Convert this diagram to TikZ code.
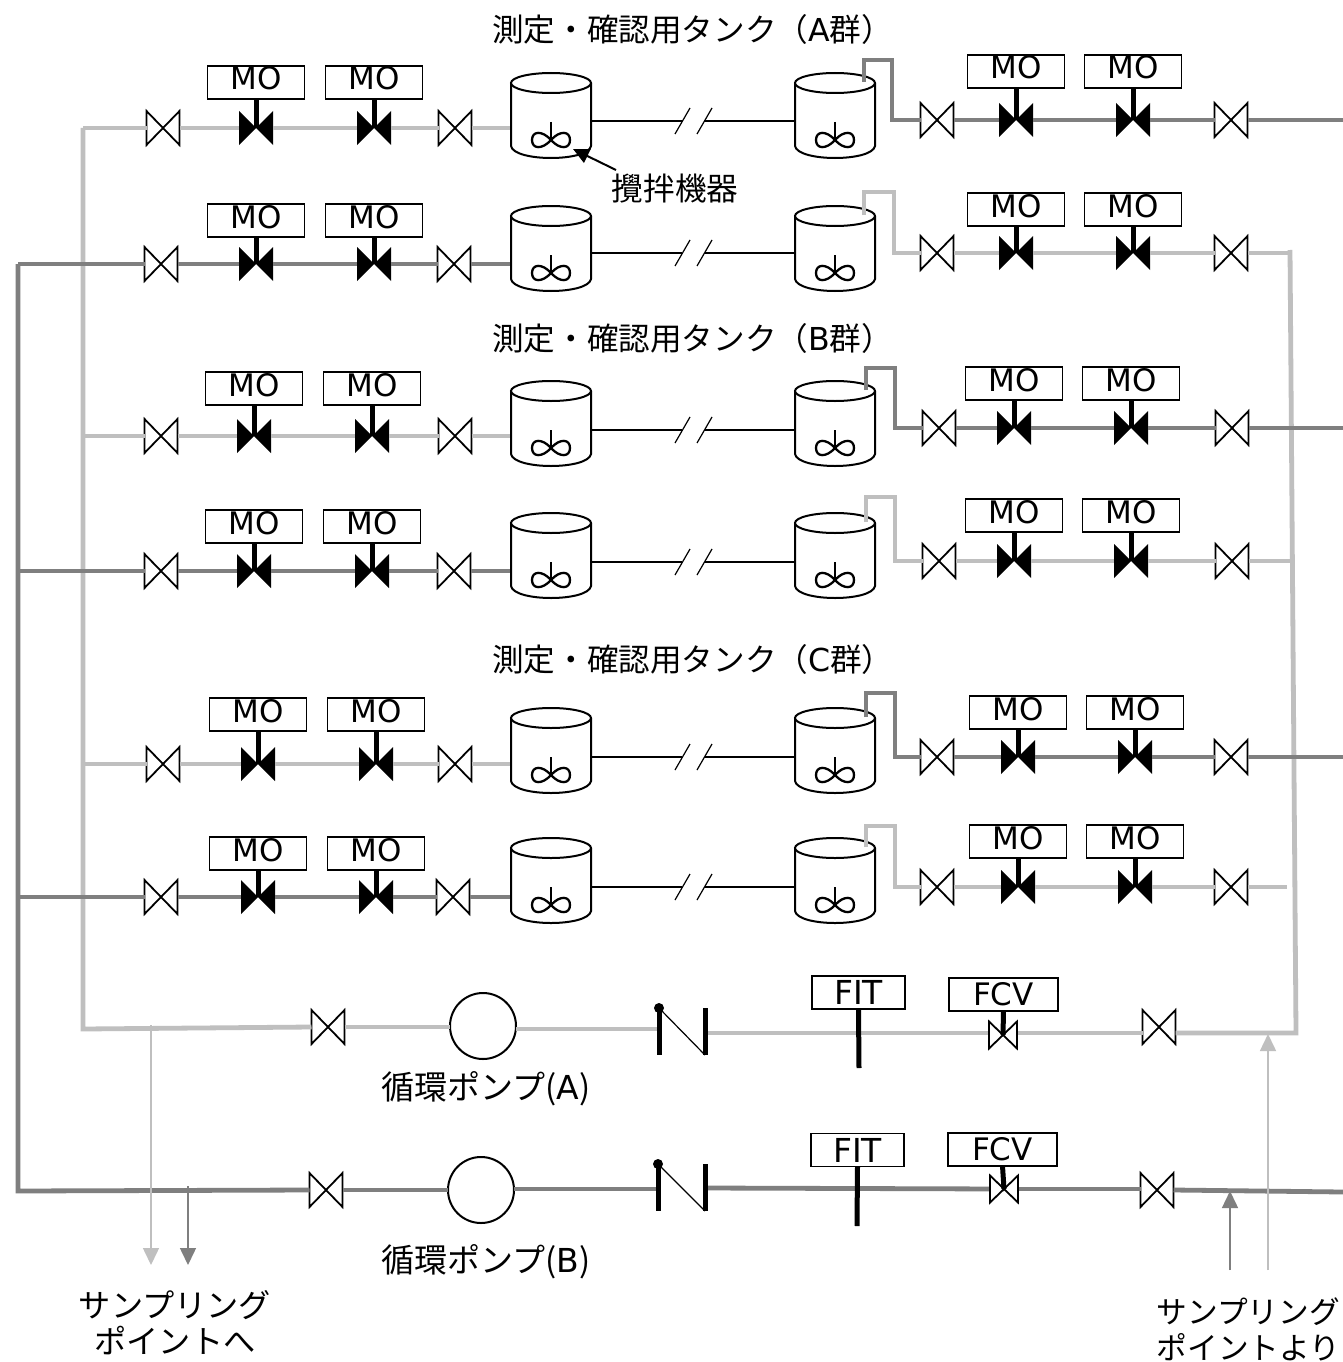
\documentclass[tikz,border=0pt]{standalone}
\usepackage{fontspec}
\setmainfont{DejaVu Sans}
\newfontfamily\cjk{Noto Sans CJK JP}
\usetikzlibrary{arrows.meta}
\definecolor{lightpipe}{HTML}{BFBFBF}
\definecolor{darkpipe}{HTML}{7F7F7F}
\tikzset{
  x=1pt,y=-1pt,
  lightp/.style={draw=lightpipe,line width=4.8pt,line join=miter},
  darkp/.style={draw=darkpipe,line width=4.8pt,line join=miter},
  sym/.style={inner sep=0pt,outer sep=0pt,minimum width=#1*2pt,minimum height=34pt},
  sym/.default=16.5,
  tagbox/.style={draw=black,line width=1.8pt,fill=white,inner sep=0pt,outer sep=0pt,minimum width=97pt,minimum height=33pt,font=\fontsize{31}{34}\selectfont},
  stem/.style={line width=5pt,draw=black},
  vessel/.style={inner sep=0pt,outer sep=0pt,minimum width=80pt,minimum height=84pt},
  jp/.style={inner sep=0pt,font=\cjk\fontsize{31.6}{38}\selectfont},
  pumplab/.style={inner sep=0pt,font=\cjk\fontsize{33}{38}\selectfont},
  samp/.style={inner sep=0pt,font=\cjk\fontsize{32.2}{36}\selectfont},
  sampr/.style={inner sep=0pt,font=\cjk\fontsize{30.7}{36}\selectfont},
  tiplight/.style={draw=lightpipe,line width=1.5pt,-{Triangle[width=16pt,length=17pt,fill=lightpipe]}},
  tipdark/.style={draw=darkpipe,line width=1.5pt,-{Triangle[width=16pt,length=17pt,fill=darkpipe]}},
}
% hand valve: name,x,y
\newcommand{\handv}[3]{\node[sym] (#1) at (#2,#3) {};
  \draw[line width=1.8pt,line join=miter,fill=white] (#1.north west)--(#1.south east)--(#1.north east)--(#1.south west)--cycle;}
% small valve
\newcommand{\smallv}[3]{\node[sym=14,minimum height=27pt] (#1) at (#2,#3) {};
  \draw[line width=1.8pt,line join=miter,fill=white] (#1.north west)--(#1.south east)--(#1.north east)--(#1.south west)--cycle;}
% motor valve: name,x,y,tag top
\newcommand{\motorv}[4]{\node[sym=17] (#1) at (#2,#3) {};
  \node[tagbox] (#1b) at (#2,#4+16.5) {\smash{\raisebox{-7.5pt}{MO}}};
  \fill[black] (#1.north west)--(#1.south east)--(#1.north east)--(#1.south west)--cycle;
  \draw[stem] (#1b.south) -- (#1.center);}
% tank: name, left x, top y
\newcommand{\tank}[3]{\node[vessel] (#1) at (#2+40,#3+42) {};
  \draw[line width=2pt,fill=white] (#2,#3+10) -- (#2,#3+73) .. controls (#2+3,#3+89) and (#2+77,#3+89) .. (#2+80,#3+73) -- (#2+80,#3+10);
  \draw[line width=2pt,fill=white] (#2+40,#3+10) ellipse [x radius=40,y radius=10];
  \draw[line width=2pt] (#2+40,#3+49) -- (#2+40,#3+67);
  \draw[line width=2.3pt] (#2+40,#3+67) .. controls (#2+31,#3+57) and (#2+21,#3+58) .. (#2+21,#3+67)
     .. controls (#2+21,#3+76) and (#2+31,#3+77) .. (#2+40,#3+67)
     .. controls (#2+49,#3+57) and (#2+59,#3+58) .. (#2+59,#3+67)
     .. controls (#2+59,#3+76) and (#2+49,#3+77) .. (#2+40,#3+67);}
% swing check valve: prefix, left x, right x, top y
\newcommand{\checkv}[4]{\coordinate (#1a) at (#2,#4); \coordinate (#1b) at (#2,#4+47);
  \coordinate (#1c) at (#3,#4); \coordinate (#1d) at (#3,#4+47);
  \draw[stem] (#1a) -- (#1b); \draw[stem] (#1c) -- (#1d);
  \fill (#1a) circle (5pt);
  \draw[line width=1.2pt] (#1a) -- (#1d);}
\begin{document}
\begin{tikzpicture}
\useasboundingbox (0,0) rectangle (1343,1362);
\fill[white] (0,0) rectangle (1343,1362);

% ---- pumps, valves of the recirculation lines ----
\handv{pva}{328}{1027}
\node[draw,line width=2pt,circle,inner sep=0pt,outer sep=0pt,minimum size=66pt] (pumpA) at (483,1026) {};
\handv{fva}{1159}{1027}
\handv{pvb}{326}{1190}
\node[draw,line width=2pt,circle,inner sep=0pt,outer sep=0pt,minimum size=66pt] (pumpB) at (481,1190) {};
\handv{fvb}{1157}{1190}

% junction coordinates
\coordinate (jA1) at (83,128);
\coordinate (jA2) at (83,1029);
\coordinate (jB1) at (18,264);
\coordinate (jB2) at (18,1191);
\coordinate (rA1) at (1290,250);
\coordinate (rA2) at (1296,1033);
\coordinate (cAl) at (658,1029);
\coordinate (cAr) at (705,1033);
\coordinate (cBl) at (656,1189);
\coordinate (cBr) at (705,1188);
\coordinate (fvaL) at (1003,1033);
\coordinate (fvbL) at (1004,1189);
\coordinate (exitB) at (1343,1192);

% light trunks
\draw[lightp] (jA1) -- (jA2) -- (pva.west);
\draw[lightp] (pva.east) -- (pumpA.west |- pva.east);
\draw[lightp] (pumpA.east |- cAl) -- (cAl);
\draw[lightp] (cAr) -- (fvaL);
\draw[lightp] (fvaL) -- (fva.west |- fvaL);
\draw[lightp] (fva.east |- rA2) -- (rA2) -- (rA1);

% left half of each row
\foreach \n/\y/\va/\ma/\mb/\vb/\bt/\col/\xs in {
  1/128/163/256/374/455/66/lightp/83,
  2/264/161/256/374/454/204/darkp/18,
  3/436/161/254/372/455/372/lightp/83,
  4/571/161/254/372/454/510/darkp/18,
  5/764/163/258/376/455/698/lightp/83,
  6/897/161/258/376/453/837/darkp/18}{
  \coordinate (L\n-s) at (\xs,\y);
  \handv{L\n-va}{\va}{\y}
  \motorv{L\n-ma}{\ma}{\y}{\bt}
  \motorv{L\n-mb}{\mb}{\y}{\bt}
  \handv{L\n-vb}{\vb}{\y}
  \draw[\col] (L\n-s) -- (L\n-va.west);
  \draw[\col] (L\n-va.east) -- (L\n-ma.west);
  \draw[\col] (L\n-ma.east) -- (L\n-mb.west);
  \draw[\col] (L\n-mb.east) -- (L\n-vb.west);
}
% dark trunk on top of the light one
\draw[darkp] (jB1) -- (jB2) -- (pvb.west);
\draw[darkp] (pvb.east) -- (pumpB.west |- pvb.east);
\draw[darkp] (pumpB.east |- cBl) -- (cBl);
\draw[darkp] (cBr) -- (fvbL);
\draw[darkp] (fvbL) -- (fvb.west |- fvbL);
\draw[darkp] (fvb.east) -- (exitB);

% tanks and the broken connecting line
\foreach \n/\y/\t/\lw in {
  1/121/73/2.6,
  2/253/206/2.6,
  3/430/381/2.6,
  4/562/513/1.4,
  5/757/708/2.6,
  6/887/838/2.6}{
  \tank{TL\n}{511}{\t}
  \tank{TR\n}{795}{\t}
  \coordinate (B\n-a) at (682,\y);
  \coordinate (B\n-b) at (705,\y);
  \coordinate (B\n-c) at (675,\y+13);
  \coordinate (B\n-d) at (690,\y-13);
  \coordinate (B\n-e) at (697,\y+13);
  \coordinate (B\n-f) at (712,\y-13);
  \draw[line width=\lw pt] (TL\n.east |- B\n-a) -- (B\n-a);
  \draw[line width=\lw pt] (B\n-b) -- (TR\n.west |- B\n-b);
  \draw[line width=1.2pt] (B\n-c) -- (B\n-d);
  \draw[line width=1.2pt] (B\n-e) -- (B\n-f);
}
% inlets from left rows into the left tanks
\foreach \n/\y/\col in {1/128/lightp,2/264/darkp,3/436/lightp,4/571/darkp,5/764/lightp,6/897/darkp}{
  \coordinate (I\n) at (510,\y);
  \draw[\col] (L\n-vb.east) -- (I\n);
}

% right half of each row
\foreach \n/\y/\va/\ma/\mb/\vb/\bt/\col/\tp/\rt/\rx/\xe/\rs in {
  1/120/937/1016/1133/1231/55/darkp/82/60/892/1343/864,
  2/253/937/1016/1133/1231/193/lightp/215/192/894/1290/864,
  3/428/939/1014/1131/1232/367/darkp/390/368/895/1343/866,
  4/561/939/1014/1131/1232/499/lightp/522/497/895/1290/866,
  5/757/937/1018/1135/1231/696/darkp/717/693/895/1343/866,
  6/887/937/1018/1135/1231/825/lightp/847/826/895/1287/866}{
  \coordinate (R\n-a) at (\rs,\tp);
  \coordinate (R\n-t) at (\rx,\rt);
  \coordinate (R\n-e) at (\xe,\y);
  \handv{R\n-va}{\va}{\y}
  \motorv{R\n-ma}{\ma}{\y}{\bt}
  \motorv{R\n-mb}{\mb}{\y}{\bt}
  \handv{R\n-vb}{\vb}{\y}
  \draw[\col] (R\n-a) |- (R\n-t) |- (R\n-va.west);
  \draw[\col] (R\n-va.east) -- (R\n-ma.west);
  \draw[\col] (R\n-ma.east) -- (R\n-mb.west);
  \draw[\col] (R\n-mb.east) -- (R\n-vb.west);
  \draw[\col] (R\n-vb.east) -- (R\n-e);
}

% check valves
\checkv{ca}{659}{705}{1008}
\checkv{cb}{658}{705}{1164}

% FIT / FCV A
\node[tagbox,minimum width=93pt,font=\fontsize{33}{36}\selectfont] (fitA) at (858.5,992.5) {\smash{\raisebox{-12pt}{FIT}}};
\coordinate (fitAe) at (859,1068);
\draw[stem] (fitA.south) -- (fitAe);
\smallv{fcvAv}{1003}{1035}
\node[tagbox,minimum width=109pt] (fcvA) at (1003.5,994.5) {\smash{\raisebox{-11pt}{FCV}}};
\draw[stem] (fcvA.south) -- (fcvAv.center);
% FIT / FCV B
\node[tagbox,minimum width=93pt,font=\fontsize{33}{36}\selectfont] (fitB) at (857.5,1150) {\smash{\raisebox{-12pt}{FIT}}};
\coordinate (fitBe) at (857,1226);
\draw[stem] (fitB.south) -- (fitBe);
\smallv{fcvBv}{1004}{1189}
\node[tagbox,minimum width=109pt] (fcvB) at (1002.5,1149.5) {\smash{\raisebox{-11pt}{FCV}}};
\draw[stem] (fcvB.south) -- (fcvBv.center);

% labels
\node[jp,anchor=west] (tA) at (492,29) {測定・確認用タンク（{\rmfamily A}群）};
\node[jp,anchor=west] (tB) at (492,338) {測定・確認用タンク（{\rmfamily B}群）};
\node[jp,anchor=west] (tC) at (492,659) {測定・確認用タンク（{\rmfamily C}群）};
\node[jp] (agi) at (675,189) {攪拌機器};
\coordinate (agiS) at (616,170);
\coordinate (agiE) at (573,149);
\draw[line width=2pt,-{Triangle[width=15pt,length=16pt]}] (agiS) -- (agiE);
\node[pumplab] (lpA) at (486,1089) {循環ポンプ({\rmfamily A})};
\node[pumplab] (lpB) at (486,1262) {循環ポンプ({\rmfamily B})};
\node[samp,align=center] (sto) at (175,1323) {サンプリング\\ポイントへ};
\node[sampr,align=left,anchor=west] (sfrom) at (1156.5,1329) {サンプリング\\ポイントより};

% sampling arrows
\coordinate (a1s) at (151,1025); \coordinate (a1e) at (151,1265);
\coordinate (a2s) at (188,1186); \coordinate (a2e) at (188,1265);
\coordinate (a3s) at (1230,1270); \coordinate (a3e) at (1230,1191);
\coordinate (a4s) at (1268,1270); \coordinate (a4e) at (1268,1034);
\draw[tiplight] (a1s) -- (a1e);
\draw[tipdark] (a2s) -- (a2e);
\draw[tipdark] (a3s) -- (a3e);
\draw[tiplight] (a4s) -- (a4e);
\end{tikzpicture}
\end{document}
